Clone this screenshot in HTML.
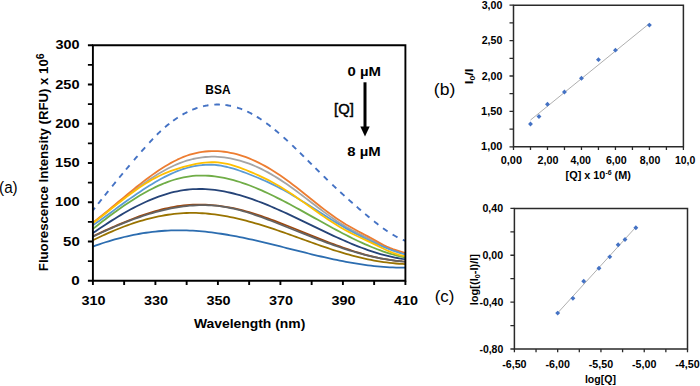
<!DOCTYPE html>
<html><head><meta charset="utf-8"><style>
html,body{margin:0;padding:0;background:#fff;width:700px;height:386px;overflow:hidden}
svg{display:block}
text{font-family:"Liberation Sans",sans-serif;fill:#000}
</style></head><body>
<svg width="700" height="386" viewBox="0 0 700 386">
<g fill="none" stroke-linecap="butt" stroke-linejoin="round">
<path d="M92.90,210.33 L93.21,209.93 L93.53,209.54 L93.84,209.15 L94.15,208.75 L94.46,208.36 L94.78,207.97 L94.98,207.70 M98.11,203.78 L98.63,203.13 L99.15,202.47 L99.67,201.82 L100.19,201.17 L100.72,200.52 L101.24,199.87 L101.65,199.34 M104.78,195.45 L105.30,194.80 L105.82,194.15 L106.34,193.51 L106.86,192.86 L107.38,192.22 L107.91,191.57 L108.32,191.05 M112.18,186.30 L112.70,185.66 L113.22,185.02 L113.74,184.38 L114.26,183.74 L114.78,183.11 L115.30,182.47 L115.72,181.96 M119.26,177.65 L119.78,177.02 L120.30,176.39 L120.83,175.76 L121.35,175.13 L121.87,174.50 L122.39,173.87 L122.81,173.37 M126.04,169.50 L126.56,168.88 L127.08,168.26 L127.60,167.64 L128.12,167.03 L128.64,166.41 L129.16,165.79 L129.58,165.30 M133.96,160.16 L134.48,159.55 L135.00,158.95 L135.52,158.34 L136.04,157.74 L136.56,157.13 L137.08,156.53 L137.50,156.05 M141.35,151.63 L141.98,150.92 L142.60,150.21 L143.23,149.50 L143.85,148.80 L144.48,148.09 L145.10,147.39 M149.27,142.77 L149.90,142.09 L150.52,141.41 L151.15,140.74 L151.77,140.07 L152.40,139.41 L153.02,138.75 M156.88,134.79 L157.50,134.17 L158.13,133.55 L158.76,132.94 L159.38,132.34 L160.01,131.74 L160.63,131.15 L160.84,130.96 M165.01,127.20 L165.74,126.58 L166.47,125.96 L167.20,125.35 L167.93,124.75 L168.65,124.16 L169.28,123.66 M173.14,120.73 L173.86,120.20 L174.59,119.68 L175.32,119.17 L176.05,118.67 L176.78,118.18 L177.51,117.69 L177.72,117.56 M182.51,114.61 L183.35,114.14 L184.18,113.68 L185.01,113.23 L185.85,112.79 L186.68,112.36 L187.41,112.00 M192.31,109.78 L193.14,109.44 L193.98,109.12 L194.81,108.80 L195.64,108.50 L196.48,108.20 L197.31,107.92 L197.52,107.85 M203.04,106.29 L203.87,106.10 L204.71,105.92 L205.54,105.75 L206.38,105.59 L207.21,105.44 L208.04,105.31 L208.46,105.24 M214.29,104.65 L215.23,104.60 L216.17,104.57 L217.11,104.55 L218.05,104.55 L218.98,104.56 L219.92,104.59 M225.44,105.03 L226.38,105.15 L227.32,105.29 L228.26,105.44 L229.20,105.61 L230.13,105.79 L230.97,105.96 M237.01,107.53 L237.84,107.79 L238.68,108.07 L239.51,108.35 L240.34,108.65 L241.18,108.95 L242.01,109.27 L242.22,109.35 M247.22,111.50 L248.06,111.90 L248.89,112.31 L249.72,112.73 L250.56,113.16 L251.39,113.60 L252.22,114.05 M256.81,116.71 L257.54,117.16 L258.27,117.62 L259.00,118.09 L259.73,118.56 L260.46,119.04 L261.19,119.53 L261.50,119.74 M266.29,123.12 L267.02,123.66 L267.75,124.21 L268.48,124.76 L269.21,125.32 L269.94,125.88 L270.67,126.45 M274.73,129.71 L275.46,130.31 L276.19,130.92 L276.92,131.53 L277.65,132.15 L278.38,132.77 L279.00,133.31 M283.59,137.33 L284.21,137.90 L284.84,138.46 L285.46,139.03 L286.09,139.60 L286.71,140.17 L287.34,140.74 L287.76,141.13 M292.24,145.32 L292.86,145.92 L293.49,146.51 L294.11,147.11 L294.74,147.71 L295.36,148.31 L295.99,148.91 L296.20,149.11 M299.95,152.76 L300.57,153.38 L301.20,153.99 L301.82,154.60 L302.45,155.22 L303.07,155.84 L303.70,156.45 L303.91,156.66 M307.76,160.49 L308.39,161.11 L309.01,161.73 L309.64,162.35 L310.26,162.98 L310.89,163.60 L311.51,164.22 L311.72,164.43 M315.47,168.17 L316.10,168.79 L316.72,169.41 L317.35,170.03 L317.98,170.65 L318.60,171.27 L319.23,171.89 L319.43,172.10 M323.71,176.30 L324.33,176.92 L324.96,177.53 L325.58,178.14 L326.21,178.74 L326.83,179.35 L327.46,179.95 L327.67,180.16 M332.35,184.65 L332.98,185.24 L333.61,185.83 L334.23,186.42 L334.86,187.01 L335.48,187.60 L336.11,188.18 L336.31,188.38 M340.27,192.06 L340.90,192.63 L341.52,193.21 L342.15,193.78 L342.77,194.35 L343.40,194.92 L344.03,195.49 L344.44,195.87 M348.51,199.54 L349.13,200.10 L349.76,200.65 L350.38,201.21 L351.01,201.76 L351.63,202.32 L352.26,202.87 L352.67,203.24 M356.74,206.79 L357.36,207.33 L357.99,207.87 L358.61,208.41 L359.24,208.95 L359.86,209.49 L360.49,210.03 L360.91,210.38 M365.18,214.00 L365.91,214.62 L366.64,215.23 L367.37,215.84 L368.10,216.44 L368.83,217.05 L369.45,217.57 M374.04,221.30 L374.76,221.89 L375.49,222.47 L376.22,223.04 L376.95,223.61 L377.68,224.18 L378.41,224.75 M383.00,228.17 L383.73,228.70 L384.46,229.22 L385.18,229.73 L385.91,230.24 L386.64,230.74 L387.37,231.24 L387.58,231.38 M392.58,234.56 L393.42,235.05 L394.25,235.54 L395.08,236.01 L395.92,236.47 L396.75,236.92 L397.48,237.30 M402.79,239.79 L403.21,239.96 L403.63,240.13 L404.05,240.30 L404.46,240.46 L404.88,240.61 L405.30,240.77 L405.40,240.81" stroke="#4472C4" stroke-width="1.9"/>
<path d="M92.90,246.54 L96.03,245.41 L99.15,244.32 L102.28,243.27 L105.40,242.25 L108.53,241.28 L111.65,240.34 L114.78,239.45 L117.90,238.59 L121.03,237.78 L124.15,237.00 L127.28,236.27 L130.40,235.58 L133.53,234.92 L136.65,234.31 L139.78,233.75 L142.90,233.22 L146.03,232.74 L149.15,232.30 L152.28,231.91 L155.40,231.55 L158.53,231.25 L161.65,230.98 L164.78,230.76 L167.90,230.58 L171.03,230.45 L174.15,230.36 L177.28,230.31 L180.40,230.30 L183.53,230.34 L186.65,230.42 L189.78,230.54 L192.90,230.70 L196.03,230.90 L199.15,231.13 L202.28,231.41 L205.40,231.72 L208.53,232.06 L211.65,232.44 L214.78,232.84 L217.90,233.28 L221.03,233.75 L224.15,234.24 L227.28,234.76 L230.40,235.31 L233.53,235.88 L236.65,236.47 L239.78,237.09 L242.90,237.72 L246.03,238.38 L249.15,239.05 L252.28,239.74 L255.40,240.44 L258.52,241.16 L261.65,241.89 L264.77,242.63 L267.90,243.38 L271.02,244.14 L274.15,244.91 L277.27,245.68 L280.40,246.46 L283.52,247.25 L286.65,248.03 L289.77,248.82 L292.90,249.61 L296.02,250.39 L299.15,251.18 L302.27,251.96 L305.40,252.73 L308.52,253.50 L311.65,254.27 L314.77,255.02 L317.90,255.76 L321.02,256.50 L324.15,257.22 L327.27,257.93 L330.40,258.62 L333.52,259.30 L336.65,259.95 L339.77,260.60 L342.90,261.22 L346.02,261.82 L349.15,262.39 L352.27,262.95 L355.40,263.48 L358.52,263.98 L361.65,264.46 L364.77,264.91 L367.90,265.33 L371.02,265.72 L374.15,266.07 L377.27,266.39 L380.40,266.68 L383.52,266.93 L386.65,267.15 L389.77,267.33 L392.90,267.46 L396.02,267.56 L399.15,267.61 L402.27,267.62 L405.40,267.59" stroke="#2C6DB0" stroke-width="1.8"/>
<path d="M92.90,240.30 L96.03,238.76 L99.15,237.25 L102.28,235.78 L105.40,234.34 L108.53,232.94 L111.65,231.58 L114.78,230.25 L117.90,228.97 L121.03,227.73 L124.15,226.53 L127.28,225.37 L130.40,224.26 L133.53,223.19 L136.65,222.17 L139.78,221.20 L142.90,220.27 L146.03,219.40 L149.15,218.57 L152.28,217.80 L155.40,217.08 L158.53,216.41 L161.65,215.80 L164.78,215.24 L167.90,214.74 L171.03,214.30 L174.15,213.91 L177.28,213.59 L180.40,213.33 L183.53,213.13 L186.65,212.99 L189.78,212.92 L192.90,212.91 L196.03,212.96 L199.15,213.07 L202.28,213.23 L205.40,213.46 L208.53,213.73 L211.65,214.06 L214.78,214.44 L217.90,214.87 L221.03,215.35 L224.15,215.88 L227.28,216.44 L230.40,217.06 L233.53,217.71 L236.65,218.40 L239.78,219.13 L242.90,219.90 L246.03,220.70 L249.15,221.53 L252.28,222.40 L255.40,223.29 L258.52,224.22 L261.65,225.17 L264.77,226.14 L267.90,227.14 L271.02,228.16 L274.15,229.20 L277.27,230.25 L280.40,231.33 L283.52,232.41 L286.65,233.52 L289.77,234.63 L292.90,235.75 L296.02,236.87 L299.15,238.00 L302.27,239.13 L305.40,240.26 L308.52,241.39 L311.65,242.51 L314.77,243.63 L317.90,244.73 L321.02,245.82 L324.15,246.90 L327.27,247.96 L330.40,249.00 L333.52,250.02 L336.65,251.01 L339.77,251.98 L342.90,252.93 L346.02,253.84 L349.15,254.72 L352.27,255.56 L355.40,256.38 L358.52,257.16 L361.65,257.90 L364.77,258.61 L367.90,259.29 L371.02,259.92 L374.15,260.51 L377.27,261.07 L380.40,261.58 L383.52,262.05 L386.65,262.48 L389.77,262.86 L392.90,263.20 L396.02,263.49 L399.15,263.74 L402.27,263.94 L405.40,264.09" stroke="#997300" stroke-width="1.8"/>
<path d="M92.90,236.24 L96.03,234.77 L99.15,233.31 L102.28,231.86 L105.40,230.43 L108.53,229.01 L111.65,227.61 L114.78,226.24 L117.90,224.88 L121.03,223.55 L124.15,222.25 L127.28,220.97 L130.40,219.73 L133.53,218.52 L136.65,217.34 L139.78,216.21 L142.90,215.11 L146.03,214.05 L149.15,213.04 L152.28,212.07 L155.40,211.16 L158.53,210.29 L161.65,209.48 L164.78,208.72 L167.90,208.01 L171.03,207.37 L174.15,206.79 L177.28,206.26 L180.40,205.81 L183.53,205.42 L186.65,205.10 L189.78,204.86 L192.90,204.68 L196.03,204.57 L199.15,204.53 L202.28,204.56 L205.40,204.65 L208.53,204.81 L211.65,205.03 L214.78,205.31 L217.90,205.66 L221.03,206.06 L224.15,206.52 L227.28,207.04 L230.40,207.61 L233.53,208.24 L236.65,208.92 L239.78,209.66 L242.90,210.44 L246.03,211.28 L249.15,212.16 L252.28,213.09 L255.40,214.07 L258.52,215.08 L261.65,216.14 L264.77,217.23 L267.90,218.34 L271.02,219.49 L274.15,220.66 L277.27,221.85 L280.40,223.06 L283.52,224.29 L286.65,225.52 L289.77,226.77 L292.90,228.02 L296.02,229.28 L299.15,230.55 L302.27,231.82 L305.40,233.09 L308.52,234.35 L311.65,235.61 L314.77,236.87 L317.90,238.12 L321.02,239.36 L324.15,240.58 L327.27,241.80 L330.40,242.99 L333.52,244.17 L336.65,245.33 L339.77,246.46 L342.90,247.58 L346.02,248.66 L349.15,249.72 L352.27,250.75 L355.40,251.74 L358.52,252.70 L361.65,253.63 L364.77,254.51 L367.90,255.36 L371.02,256.16 L374.15,256.92 L377.27,257.63 L380.40,258.29 L383.52,258.91 L386.65,259.47 L389.77,259.97 L392.90,260.42 L396.02,260.81 L399.15,261.14 L402.27,261.41 L405.40,261.61" stroke="#9E480E" stroke-width="1.8"/>
<path d="M92.90,236.67 L96.03,235.19 L99.15,233.73 L102.28,232.28 L105.40,230.86 L108.53,229.46 L111.65,228.09 L114.78,226.74 L117.90,225.42 L121.03,224.12 L124.15,222.86 L127.28,221.63 L130.40,220.43 L133.53,219.26 L136.65,218.13 L139.78,217.04 L142.90,215.98 L146.03,214.96 L149.15,213.99 L152.28,213.06 L155.40,212.17 L158.53,211.33 L161.65,210.53 L164.78,209.79 L167.90,209.09 L171.03,208.44 L174.15,207.85 L177.28,207.31 L180.40,206.83 L183.53,206.40 L186.65,206.03 L189.78,205.72 L192.90,205.48 L196.03,205.29 L199.15,205.18 L202.28,205.13 L205.40,205.15 L208.53,205.24 L211.65,205.41 L214.78,205.65 L217.90,205.97 L221.03,206.36 L224.15,206.84 L227.28,207.39 L230.40,208.00 L233.53,208.69 L236.65,209.43 L239.78,210.24 L242.90,211.10 L246.03,212.01 L249.15,212.98 L252.28,213.99 L255.40,215.04 L258.52,216.13 L261.65,217.25 L264.77,218.40 L267.90,219.58 L271.02,220.78 L274.15,222.00 L277.27,223.23 L280.40,224.47 L283.52,225.72 L286.65,226.97 L289.77,228.22 L292.90,229.47 L296.02,230.72 L299.15,231.97 L302.27,233.21 L305.40,234.45 L308.52,235.68 L311.65,236.90 L314.77,238.11 L317.90,239.31 L321.02,240.50 L324.15,241.67 L327.27,242.82 L330.40,243.95 L333.52,245.07 L336.65,246.16 L339.77,247.23 L342.90,248.28 L346.02,249.30 L349.15,250.29 L352.27,251.25 L355.40,252.19 L358.52,253.09 L361.65,253.95 L364.77,254.78 L367.90,255.57 L371.02,256.33 L374.15,257.04 L377.27,257.72 L380.40,258.35 L383.52,258.93 L386.65,259.47 L389.77,259.96 L392.90,260.40 L396.02,260.79 L399.15,261.12 L402.27,261.41 L405.40,261.63" stroke="#636363" stroke-width="1.8"/>
<path d="M92.90,233.08 L96.03,230.93 L99.15,228.80 L102.28,226.71 L105.40,224.65 L108.53,222.62 L111.65,220.63 L114.78,218.67 L117.90,216.76 L121.03,214.89 L124.15,213.06 L127.28,211.29 L130.40,209.56 L133.53,207.88 L136.65,206.26 L139.78,204.70 L142.90,203.20 L146.03,201.76 L149.15,200.38 L152.28,199.07 L155.40,197.83 L158.53,196.66 L161.65,195.56 L164.78,194.54 L167.90,193.60 L171.03,192.74 L174.15,191.97 L177.28,191.28 L180.40,190.67 L183.53,190.16 L186.65,189.74 L189.78,189.42 L192.90,189.18 L196.03,189.04 L199.15,188.99 L202.28,189.02 L205.40,189.13 L208.53,189.32 L211.65,189.60 L214.78,189.95 L217.90,190.37 L221.03,190.86 L224.15,191.43 L227.28,192.06 L230.40,192.75 L233.53,193.50 L236.65,194.32 L239.78,195.19 L242.90,196.11 L246.03,197.09 L249.15,198.12 L252.28,199.19 L255.40,200.31 L258.52,201.47 L261.65,202.67 L264.77,203.91 L267.90,205.19 L271.02,206.49 L274.15,207.83 L277.27,209.20 L280.40,210.59 L283.52,212.00 L286.65,213.44 L289.77,214.89 L292.90,216.36 L296.02,217.85 L299.15,219.34 L302.27,220.85 L305.40,222.35 L308.52,223.87 L311.65,225.38 L314.77,226.90 L317.90,228.40 L321.02,229.91 L324.15,231.40 L327.27,232.89 L330.40,234.36 L333.52,235.81 L336.65,237.25 L339.77,238.66 L342.90,240.05 L346.02,241.42 L349.15,242.76 L352.27,244.06 L355.40,245.34 L358.52,246.57 L361.65,247.77 L364.77,248.93 L367.90,250.05 L371.02,251.12 L374.15,252.14 L377.27,253.12 L380.40,254.04 L383.52,254.90 L386.65,255.71 L389.77,256.46 L392.90,257.14 L396.02,257.76 L399.15,258.31 L402.27,258.79 L405.40,259.20" stroke="#264478" stroke-width="1.8"/>
<path d="M92.90,228.87 L96.03,226.42 L99.15,223.99 L102.28,221.58 L105.40,219.20 L108.53,216.84 L111.65,214.52 L114.78,212.23 L117.90,209.98 L121.03,207.77 L124.15,205.61 L127.28,203.49 L130.40,201.43 L133.53,199.42 L136.65,197.46 L139.78,195.57 L142.90,193.75 L146.03,191.99 L149.15,190.30 L152.28,188.69 L155.40,187.15 L158.53,185.69 L161.65,184.32 L164.78,183.04 L167.90,181.85 L171.03,180.75 L174.15,179.75 L177.28,178.85 L180.40,178.05 L183.53,177.37 L186.65,176.79 L189.78,176.32 L192.90,175.97 L196.03,175.72 L199.15,175.58 L202.28,175.54 L205.40,175.60 L208.53,175.76 L211.65,176.01 L214.78,176.35 L217.90,176.78 L221.03,177.30 L224.15,177.89 L227.28,178.57 L230.40,179.32 L233.53,180.15 L236.65,181.05 L239.78,182.01 L242.90,183.04 L246.03,184.13 L249.15,185.28 L252.28,186.49 L255.40,187.75 L258.52,189.06 L261.65,190.42 L264.77,191.82 L267.90,193.27 L271.02,194.76 L274.15,196.28 L277.27,197.83 L280.40,199.42 L283.52,201.03 L286.65,202.66 L289.77,204.32 L292.90,206.00 L296.02,207.70 L299.15,209.41 L302.27,211.13 L305.40,212.87 L308.52,214.60 L311.65,216.35 L314.77,218.09 L317.90,219.83 L321.02,221.57 L324.15,223.31 L327.27,225.03 L330.40,226.74 L333.52,228.44 L336.65,230.12 L339.77,231.79 L342.90,233.43 L346.02,235.04 L349.15,236.63 L352.27,238.19 L355.40,239.71 L358.52,241.20 L361.65,242.66 L364.77,244.07 L367.90,245.44 L371.02,246.76 L374.15,248.04 L377.27,249.27 L380.40,250.44 L383.52,251.55 L386.65,252.60 L389.77,253.58 L392.90,254.49 L396.02,255.32 L399.15,256.08 L402.27,256.75 L405.40,257.34" stroke="#70AD47" stroke-width="1.8"/>
<path d="M92.90,223.13 L96.03,220.65 L99.15,218.15 L102.28,215.64 L105.40,213.12 L108.53,210.60 L111.65,208.08 L114.78,205.57 L117.90,203.07 L121.03,200.59 L124.15,198.12 L127.28,195.69 L130.40,193.28 L133.53,190.91 L136.65,188.58 L139.78,186.29 L142.90,184.06 L146.03,181.88 L149.15,179.76 L152.28,177.70 L155.40,175.71 L158.53,173.80 L161.65,171.96 L164.78,170.21 L167.90,168.55 L171.03,166.98 L174.15,165.51 L177.28,164.14 L180.40,162.88 L183.53,161.73 L186.65,160.70 L189.78,159.79 L192.90,159.00 L196.03,158.32 L199.15,157.77 L202.28,157.33 L205.40,157.01 L208.53,156.80 L211.65,156.70 L214.78,156.72 L217.90,156.84 L221.03,157.07 L224.15,157.40 L227.28,157.84 L230.40,158.38 L233.53,159.02 L236.65,159.77 L239.78,160.61 L242.90,161.55 L246.03,162.58 L249.15,163.71 L252.28,164.94 L255.40,166.25 L258.52,167.65 L261.65,169.14 L264.77,170.72 L267.90,172.39 L271.02,174.13 L274.15,175.96 L277.27,177.88 L280.40,179.87 L283.52,181.94 L286.65,184.07 L289.77,186.27 L292.90,188.52 L296.02,190.82 L299.15,193.15 L302.27,195.51 L305.40,197.89 L308.52,200.28 L311.65,202.68 L314.77,205.06 L317.90,207.43 L321.02,209.78 L324.15,212.10 L327.27,214.38 L330.40,216.61 L333.52,218.78 L336.65,220.89 L339.77,222.93 L342.90,224.88 L346.02,226.75 L349.15,228.53 L352.27,230.25 L355.40,231.91 L358.52,233.52 L361.65,235.10 L364.77,236.64 L367.90,238.17 L371.02,239.69 L374.15,241.22 L377.27,242.76 L380.40,244.29 L383.52,245.80 L386.65,247.27 L389.77,248.67 L392.90,249.98 L396.02,251.19 L399.15,252.28 L402.27,253.22 L405.40,254.00" stroke="#A5A5A5" stroke-width="1.8"/>
<path d="M92.90,222.74 L96.03,220.29 L99.15,217.80 L102.28,215.28 L105.40,212.72 L108.53,210.14 L111.65,207.54 L114.78,204.93 L117.90,202.31 L121.03,199.69 L124.15,197.08 L127.28,194.48 L130.40,191.90 L133.53,189.35 L136.65,186.82 L139.78,184.34 L142.90,181.89 L146.03,179.50 L149.15,177.16 L152.28,174.89 L155.40,172.68 L158.53,170.55 L161.65,168.50 L164.78,166.54 L167.90,164.67 L171.03,162.90 L174.15,161.24 L177.28,159.69 L180.40,158.25 L183.53,156.94 L186.65,155.76 L189.78,154.72 L192.90,153.81 L196.03,153.04 L199.15,152.40 L202.28,151.88 L205.40,151.50 L208.53,151.23 L211.65,151.10 L214.78,151.08 L217.90,151.19 L221.03,151.41 L224.15,151.75 L227.28,152.20 L230.40,152.77 L233.53,153.44 L236.65,154.22 L239.78,155.12 L242.90,156.11 L246.03,157.21 L249.15,158.41 L252.28,159.71 L255.40,161.10 L258.52,162.59 L261.65,164.18 L264.77,165.85 L267.90,167.62 L271.02,169.47 L274.15,171.41 L277.27,173.43 L280.40,175.54 L283.52,177.72 L286.65,179.98 L289.77,182.29 L292.90,184.67 L296.02,187.08 L299.15,189.53 L302.27,192.01 L305.40,194.50 L308.52,197.01 L311.65,199.51 L314.77,202.00 L317.90,204.48 L321.02,206.93 L324.15,209.34 L327.27,211.71 L330.40,214.02 L333.52,216.28 L336.65,218.46 L339.77,220.56 L342.90,222.56 L346.02,224.48 L349.15,226.31 L352.27,228.08 L355.40,229.79 L358.52,231.46 L361.65,233.11 L364.77,234.75 L367.90,236.40 L371.02,238.08 L374.15,239.79 L377.27,241.54 L380.40,243.28 L383.52,244.96 L386.65,246.50 L389.77,247.85 L392.90,249.02 L396.02,250.06 L399.15,251.03 L402.27,252.01 L405.40,253.10" stroke="#ED7D31" stroke-width="1.8"/>
<path d="M92.90,225.31 L96.03,223.13 L99.15,220.92 L102.28,218.69 L105.40,216.44 L108.53,214.17 L111.65,211.90 L114.78,209.63 L117.90,207.35 L121.03,205.08 L124.15,202.83 L127.28,200.59 L130.40,198.37 L133.53,196.19 L136.65,194.03 L139.78,191.91 L142.90,189.83 L146.03,187.80 L149.15,185.82 L152.28,183.90 L155.40,182.04 L158.53,180.25 L161.65,178.53 L164.78,176.89 L167.90,175.33 L171.03,173.86 L174.15,172.48 L177.28,171.20 L180.40,170.02 L183.53,168.95 L186.65,168.00 L189.78,167.16 L192.90,166.44 L196.03,165.84 L199.15,165.37 L202.28,165.02 L205.40,164.80 L208.53,164.72 L211.65,164.76 L214.78,164.94 L217.90,165.26 L221.03,165.72 L224.15,166.30 L227.28,167.00 L230.40,167.81 L233.53,168.71 L236.65,169.69 L239.78,170.75 L242.90,171.86 L246.03,173.03 L249.15,174.23 L252.28,175.47 L255.40,176.73 L258.52,178.03 L261.65,179.36 L264.77,180.74 L267.90,182.16 L271.02,183.62 L274.15,185.14 L277.27,186.71 L280.40,188.34 L283.52,190.03 L286.65,191.77 L289.77,193.57 L292.90,195.40 L296.02,197.28 L299.15,199.20 L302.27,201.14 L305.40,203.10 L308.52,205.09 L311.65,207.08 L314.77,209.09 L317.90,211.09 L321.02,213.09 L324.15,215.09 L327.27,217.07 L330.40,219.03 L333.52,220.96 L336.65,222.87 L339.77,224.74 L342.90,226.57 L346.02,228.35 L349.15,230.09 L352.27,231.79 L355.40,233.44 L358.52,235.06 L361.65,236.65 L364.77,238.20 L367.90,239.72 L371.02,241.20 L374.15,242.66 L377.27,244.10 L380.40,245.49 L383.52,246.85 L386.65,248.15 L389.77,249.39 L392.90,250.55 L396.02,251.64 L399.15,252.63 L402.27,253.51 L405.40,254.28" stroke="#5B9BD5" stroke-width="1.8"/>
<path d="M92.90,223.08 L96.03,220.74 L99.15,218.36 L102.28,215.94 L105.40,213.50 L108.53,211.04 L111.65,208.57 L114.78,206.10 L117.90,203.64 L121.03,201.20 L124.15,198.78 L127.28,196.40 L130.40,194.06 L133.53,191.76 L136.65,189.53 L139.78,187.37 L142.90,185.28 L146.03,183.27 L149.15,181.36 L152.28,179.54 L155.40,177.84 L158.53,176.25 L161.65,174.77 L164.78,173.39 L167.90,172.12 L171.03,170.93 L174.15,169.82 L177.28,168.80 L180.40,167.84 L183.53,166.94 L186.65,166.11 L189.78,165.32 L192.90,164.60 L196.03,163.95 L199.15,163.38 L202.28,162.91 L205.40,162.55 L208.53,162.31 L211.65,162.20 L214.78,162.23 L217.90,162.42 L221.03,162.77 L224.15,163.27 L227.28,163.92 L230.40,164.69 L233.53,165.58 L236.65,166.57 L239.78,167.65 L242.90,168.81 L246.03,170.03 L249.15,171.30 L252.28,172.62 L255.40,173.98 L258.52,175.38 L261.65,176.83 L264.77,178.34 L267.90,179.91 L271.02,181.53 L274.15,183.23 L277.27,184.99 L280.40,186.83 L283.52,188.74 L286.65,190.72 L289.77,192.76 L292.90,194.86 L296.02,197.00 L299.15,199.18 L302.27,201.38 L305.40,203.60 L308.52,205.84 L311.65,208.07 L314.77,210.30 L317.90,212.52 L321.02,214.72 L324.15,216.88 L327.27,219.00 L330.40,221.08 L333.52,223.11 L336.65,225.06 L339.77,226.95 L342.90,228.76 L346.02,230.48 L349.15,232.12 L352.27,233.71 L355.40,235.24 L358.52,236.73 L361.65,238.21 L364.77,239.67 L367.90,241.13 L371.02,242.61 L374.15,244.12 L377.27,245.66 L380.40,247.22 L383.52,248.74 L386.65,250.22 L389.77,251.60 L392.90,252.86 L396.02,253.97 L399.15,254.89 L402.27,255.59 L405.40,256.05" stroke="#FFC000" stroke-width="1.8"/>
</g>
<path d="M92.90,45.20 H405.40 V280.80 H92.90 Z" stroke="#000" stroke-width="1.9" fill="none"/><path d="M87.90,280.80 H92.90 M87.90,261.17 H92.90 M87.90,241.53 H92.90 M87.90,221.90 H92.90 M87.90,202.27 H92.90 M87.90,182.63 H92.90 M87.90,163.00 H92.90 M87.90,143.37 H92.90 M87.90,123.73 H92.90 M87.90,104.10 H92.90 M87.90,84.47 H92.90 M87.90,64.83 H92.90 M87.90,45.20 H92.90 M92.90,280.80 V285.00 M124.15,280.80 V285.00 M155.40,280.80 V285.00 M186.65,280.80 V285.00 M217.90,280.80 V285.00 M249.15,280.80 V285.00 M280.40,280.80 V285.00 M311.65,280.80 V285.00 M342.90,280.80 V285.00 M374.15,280.80 V285.00 M405.40,280.80 V285.00" stroke="#000" stroke-width="1.9"/>
<path d="M365,82.3 V128" stroke="#000" stroke-width="3.0"/><path d="M360.3,126.5 L369.7,126.5 L365,136.4 Z" fill="#000"/>
<path d="M513.5,5.2 H683.4 V146.8 H513.5 Z" stroke="#2a2a2a" stroke-width="1.5" fill="none"/><path d="M509.50,146.80 H513.5 M509.50,129.10 H513.5 M509.50,111.40 H513.5 M509.50,93.70 H513.5 M509.50,76.00 H513.5 M509.50,58.30 H513.5 M509.50,40.60 H513.5 M509.50,22.90 H513.5 M509.50,5.20 H513.5 M513.50,146.8 V150.00 M530.49,146.8 V150.00 M547.48,146.8 V150.00 M564.47,146.8 V150.00 M581.46,146.8 V150.00 M598.45,146.8 V150.00 M615.44,146.8 V150.00 M632.43,146.8 V150.00 M649.42,146.8 V150.00 M666.41,146.8 V150.00 M683.40,146.8 V150.00" stroke="#2a2a2a" stroke-width="1.3"/><path d="M530.49,120.04 L649.42,23.47" stroke="#ababab" stroke-width="0.95"/><path d="M530.49,121.62 L532.94,124.07 L530.49,126.52 L528.04,124.07 Z M538.99,113.98 L541.44,116.43 L538.99,118.88 L536.53,116.43 Z M547.48,101.80 L549.93,104.25 L547.48,106.70 L545.03,104.25 Z M564.47,89.55 L566.92,92.00 L564.47,94.45 L562.02,92.00 Z M581.46,75.74 L583.91,78.19 L581.46,80.64 L579.01,78.19 Z M598.45,57.20 L600.90,59.65 L598.45,62.10 L596.00,59.65 Z M615.44,47.71 L617.89,50.16 L615.44,52.61 L612.99,50.16 Z M649.42,22.64 L651.87,25.09 L649.42,27.54 L646.97,25.09 Z" fill="#4472C4"/>
<path d="M514.4,208.4 H687.5 V349.0 H514.4 Z" stroke="#2a2a2a" stroke-width="1.5" fill="none"/><path d="M510.40,208.40 H514.4 M510.40,231.83 H514.4 M510.40,255.27 H514.4 M510.40,278.70 H514.4 M510.40,302.13 H514.4 M510.40,325.57 H514.4 M510.40,349.00 H514.4 M514.40,349.0 V352.20 M536.04,349.0 V352.20 M557.67,349.0 V352.20 M579.31,349.0 V352.20 M600.95,349.0 V352.20 M622.59,349.0 V352.20 M644.23,349.0 V352.20 M665.86,349.0 V352.20 M687.50,349.0 V352.20" stroke="#2a2a2a" stroke-width="1.3"/><path d="M557.67,312.99 L635.84,227.12" stroke="#ababab" stroke-width="0.95"/><path d="M557.67,310.64 L560.12,313.09 L557.67,315.54 L555.22,313.09 Z M572.92,295.88 L575.37,298.33 L572.92,300.78 L570.47,298.33 Z M583.73,278.73 L586.18,281.18 L583.73,283.63 L581.28,281.18 Z M598.97,265.85 L601.42,268.30 L598.97,270.75 L596.52,268.30 Z M609.78,254.42 L612.23,256.87 L609.78,259.32 L607.33,256.87 Z M618.17,242.24 L620.62,244.69 L618.17,247.14 L615.72,244.69 Z M625.02,236.98 L627.47,239.43 L625.02,241.88 L622.57,239.43 Z M635.84,225.25 L638.29,227.70 L635.84,230.15 L633.39,227.70 Z" fill="#4472C4"/>
<text transform="translate(71.22,285.00) scale(1.1520,1)" font-size="13.2" font-weight="bold">0</text>
<text transform="translate(63.03,245.73) scale(1.1407,1)" font-size="13.2" font-weight="bold">50</text>
<text transform="translate(54.96,206.47) scale(1.1181,1)" font-size="13.2" font-weight="bold">100</text>
<text transform="translate(54.96,167.20) scale(1.1181,1)" font-size="13.2" font-weight="bold">150</text>
<text transform="translate(55.25,127.93) scale(1.1048,1)" font-size="13.2" font-weight="bold">200</text>
<text transform="translate(55.25,88.67) scale(1.1048,1)" font-size="13.2" font-weight="bold">250</text>
<text transform="translate(55.53,49.40) scale(1.0918,1)" font-size="13.2" font-weight="bold">300</text>
<text transform="translate(81.43,305.00) scale(1.0918,1)" font-size="13.2" font-weight="bold">310</text>
<text transform="translate(143.93,305.00) scale(1.0918,1)" font-size="13.2" font-weight="bold">330</text>
<text transform="translate(206.43,305.00) scale(1.0918,1)" font-size="13.2" font-weight="bold">350</text>
<text transform="translate(268.93,305.00) scale(1.0918,1)" font-size="13.2" font-weight="bold">370</text>
<text transform="translate(331.43,305.00) scale(1.0918,1)" font-size="13.2" font-weight="bold">390</text>
<text transform="translate(393.93,305.00) scale(1.0918,1)" font-size="13.2" font-weight="bold">410</text>
<text transform="translate(193.90,327.90) scale(1.0524,1)" font-size="13.2" font-weight="bold">Wavelength (nm)</text>
<text transform="translate(47.90,271.16) rotate(-90) scale(1.0155,1)" font-size="13.0" font-weight="bold">Fluorescence Intensity (RFU) x 10<tspan font-size="10.4" dy="-4.4">6</tspan></text>
<text transform="translate(-0.92,192.80) scale(0.9205,1)" font-size="16.5" font-weight="normal">(a)</text>
<text transform="translate(205.29,94.00) scale(0.9057,1)" font-size="13.2" font-weight="bold">BSA</text>
<text transform="translate(347.54,75.80) scale(1.1292,1)" font-size="13.2" font-weight="bold">0 µM</text>
<text transform="translate(347.24,155.80) scale(1.1292,1)" font-size="13.2" font-weight="bold">8 µM</text>
<text transform="translate(334.03,114.00) scale(1.0727,1)" font-size="13.8" font-weight="normal" stroke="#000" stroke-width="0.45">[Q]</text>
<text transform="translate(481.10,150.30) scale(1.0632,1)" font-size="10.3" font-weight="bold">1,00</text>
<text transform="translate(481.10,114.90) scale(1.0632,1)" font-size="10.3" font-weight="bold">1,50</text>
<text transform="translate(481.64,79.50) scale(1.0359,1)" font-size="10.3" font-weight="bold">2,00</text>
<text transform="translate(481.64,44.10) scale(1.0359,1)" font-size="10.3" font-weight="bold">2,50</text>
<text transform="translate(481.64,8.70) scale(1.0359,1)" font-size="10.3" font-weight="bold">3,00</text>
<text transform="translate(500.67,163.70) scale(1.0649,1)" font-size="10.3" font-weight="bold">0,00</text>
<text transform="translate(537.54,163.70) scale(1.0462,1)" font-size="10.3" font-weight="bold">2,00</text>
<text transform="translate(570.44,163.70) scale(1.0256,1)" font-size="10.3" font-weight="bold">4,00</text>
<text transform="translate(605.88,163.70) scale(1.0390,1)" font-size="10.3" font-weight="bold">6,00</text>
<text transform="translate(639.74,163.70) scale(1.0256,1)" font-size="10.3" font-weight="bold">8,00</text>
<text transform="translate(674.94,163.80) scale(1.0158,1)" font-size="10.3" font-weight="bold">10,0</text>
<text transform="translate(565.57,178.60) scale(1.0541,1)" font-size="10.3" font-weight="bold">[Q] x 10<tspan font-size="6.6" dy="-3.6">-6</tspan><tspan dy="3.6"> (M)</tspan></text>
<text transform="translate(473.00,84.27) rotate(-90) scale(1.2909,1)" font-size="10.3" font-weight="bold">I<tspan font-size="6.6" dy="2.4">0</tspan><tspan dy="-2.4">/I</tspan></text>
<text transform="translate(433.84,95.30) scale(1.0630,1)" font-size="16.5" font-weight="normal">(b)</text>
<text transform="translate(482.38,211.90) scale(1.0338,1)" font-size="10.3" font-weight="bold">0,40</text>
<text transform="translate(482.38,258.77) scale(1.0338,1)" font-size="10.3" font-weight="bold">0,00</text>
<text transform="translate(479.39,305.63) scale(1.0178,1)" font-size="10.3" font-weight="bold">-0,40</text>
<text transform="translate(479.39,352.50) scale(1.0178,1)" font-size="10.3" font-weight="bold">-0,80</text>
<text transform="translate(502.18,368.00) scale(1.0400,1)" font-size="10.3" font-weight="bold">-6,50</text>
<text transform="translate(545.45,368.00) scale(1.0400,1)" font-size="10.3" font-weight="bold">-6,00</text>
<text transform="translate(588.73,368.00) scale(1.0400,1)" font-size="10.3" font-weight="bold">-5,50</text>
<text transform="translate(632.00,368.00) scale(1.0400,1)" font-size="10.3" font-weight="bold">-5,00</text>
<text transform="translate(675.28,368.00) scale(1.0400,1)" font-size="10.3" font-weight="bold">-4,50</text>
<text transform="translate(584.93,382.70) scale(1.0241,1)" font-size="10.3" font-weight="bold">log[Q]</text>
<text transform="translate(478.00,305.20) rotate(-90) scale(1.0731,1)" font-size="10.3" font-weight="bold">log[(I<tspan font-size="6.6" dy="2.4">0</tspan><tspan dy="-2.4">-I)/I]</tspan></text>
<text transform="translate(434.68,301.60) scale(1.0203,1)" font-size="16.5" font-weight="normal">(c)</text>
</svg>
</body></html>
